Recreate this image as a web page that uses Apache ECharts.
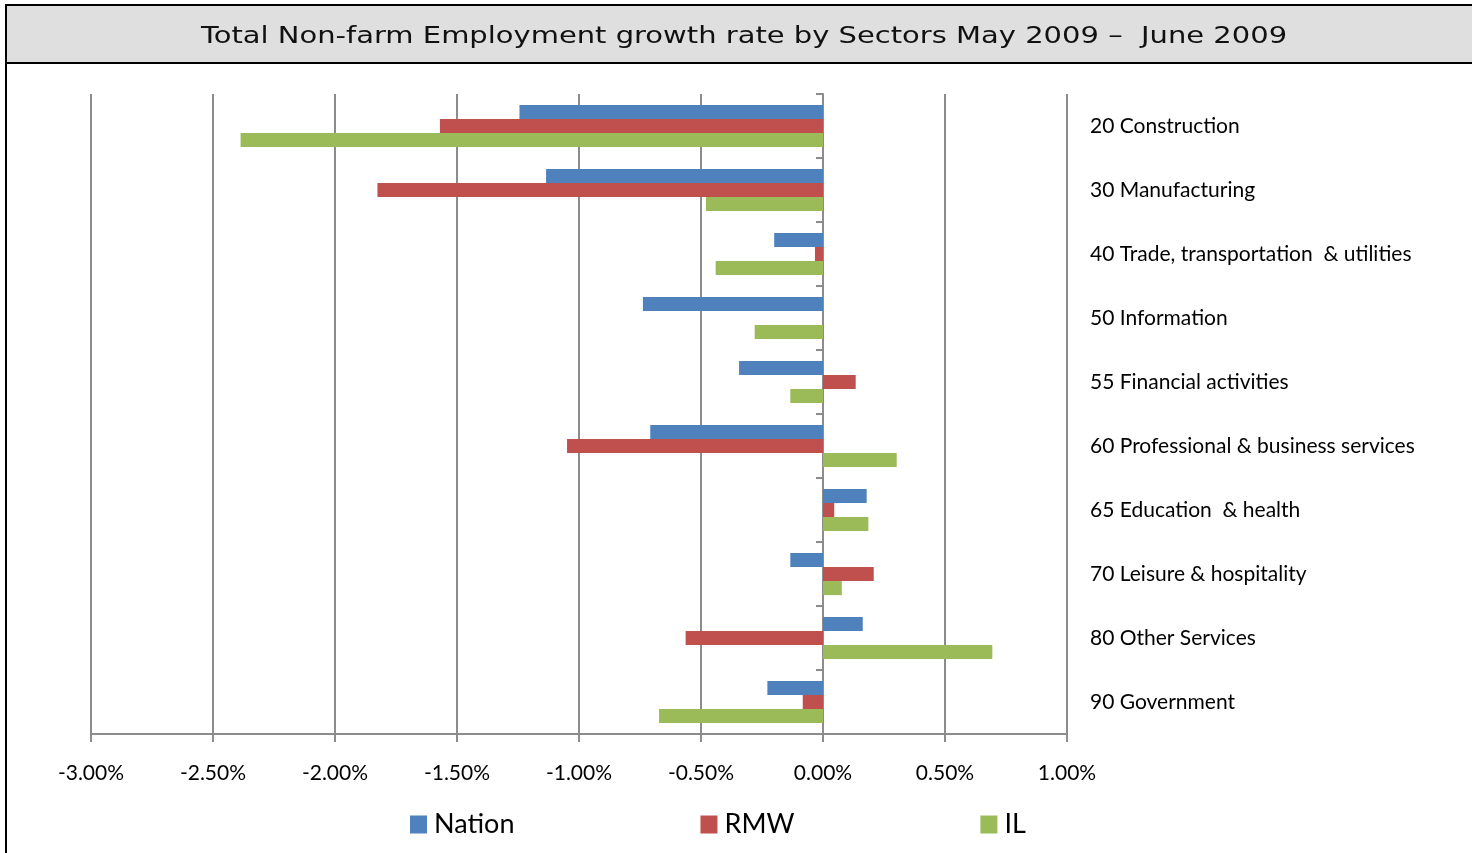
<!DOCTYPE html>
<html>
<head>
<meta charset="utf-8">
<script src="https://cdn.jsdelivr.net/npm/echarts@6/dist/echarts.min.js"></script>
<style>
html,body{margin:0;padding:0;background:#fff;}
#chart{width:1472px;height:853px;}
</style>
</head>
<body>
<div id="chart"></div>
<script>
var categories = ["20 Construction","30 Manufacturing","40 Trade, transportation  & utilities","50 Information","55 Financial activities","60 Professional & business services","65 Education  & health","70 Leisure & hospitality","80 Other Services","90 Government"];
var nation = [-1.244, -1.135, -0.200, -0.738, -0.344, -0.708, 0.179, -0.134, 0.163, -0.228];
var rmw    = [-1.570, -1.826, -0.033, 0.000, 0.134, -1.049, 0.046, 0.208, -0.563, -0.083];
var il     = [-2.387, -0.480, -0.440, -0.280, -0.134, 0.302, 0.186, 0.077, 0.694, -0.672];
var xTicks = {min: -3, max: 1, interval: 0.5};
var titleText = "Total Non-farm Employment growth rate by Sectors May 2009 \u2013  June 2009";

var chart = echarts.init(document.getElementById('chart'));
var labelFont = "Lato, 'Open Sans', sans-serif";
chart.setOption({
  animation: false,
  backgroundColor: '#fff',
  graphic: [
    {type:'rect', shape:{x:6,y:5,width:1500,height:900}, style:{fill:'none',stroke:'#000',lineWidth:2}, z:-10},
    {type:'rect', shape:{x:6,y:5,width:1500,height:58}, style:{fill:'#dfdfdf',stroke:'#000',lineWidth:2}, z:-9},
    {type:'text', x:744, y:37, scaleX:1.26, scaleY:1.0, z:10,
      style:{text:titleText, fill:'#111', font:"normal 23px 'DejaVu Sans', Verdana, sans-serif", textAlign:'center', textVerticalAlign:'middle'}}
  ],
  legend: {
    left: 410, top: 811, padding: 0,
    itemWidth: 17, itemHeight: 18, itemGap: 186,
    icon: 'rect',
    textStyle: {fontFamily: labelFont, fontSize: 27, color: '#000', padding:[0,0,0,2]},
    data: ['Nation','RMW','IL']
  },
  grid: {left: 91, right: 405, top: 94, bottom: 119, containLabel: false},
  xAxis: {
    type: 'value', min: xTicks.min, max: xTicks.max, interval: xTicks.interval,
    axisLine: {show: true, onZero: false, lineStyle: {color: '#8c8c8c', width: 2}},
    axisTick: {show: true, length: 8, lineStyle: {color: '#8c8c8c', width: 2}},
    splitLine: {show: true, lineStyle: {color: '#8c8c8c', width: 2}},
    axisLabel: {margin: 29, fontFamily: labelFont, fontSize: 21, color: '#000',
      formatter: function(v){ return v.toFixed(2) + '%'; }}
  },
  yAxis: [
    {
      type: 'category', data: categories, inverse: true, position: 'left',
      axisLine: {show: true, onZero: true, lineStyle: {color: '#8c8c8c', width: 2}},
      axisTick: {show: true, length: 7, lineStyle: {color: '#8c8c8c', width: 2}},
      axisLabel: {show: false},
      splitLine: {show: false}
    },
    {
      type: 'category', data: categories, inverse: true, position: 'right',
      axisLine: {show: false}, axisTick: {show: false}, splitLine: {show: false},
      axisLabel: {show: true, margin: 23, align: 'left', fontFamily: labelFont, fontSize: 21, color: '#000', padding:[8,0,0,0]}
    }
  ],
  series: [
    {name: 'Nation', type: 'bar', data: nation, yAxisIndex: 0, barGap: '0%', barCategoryGap: '34%', itemStyle: {color: '#4F81BD'}},
    {name: 'RMW', type: 'bar', data: rmw, yAxisIndex: 0, barGap: '0%', barCategoryGap: '34%', itemStyle: {color: '#C0504D'}},
    {name: 'IL', type: 'bar', data: il, yAxisIndex: 0, barGap: '0%', barCategoryGap: '34%', itemStyle: {color: '#9BBB59'}}
  ]
});
</script>
</body>
</html>
